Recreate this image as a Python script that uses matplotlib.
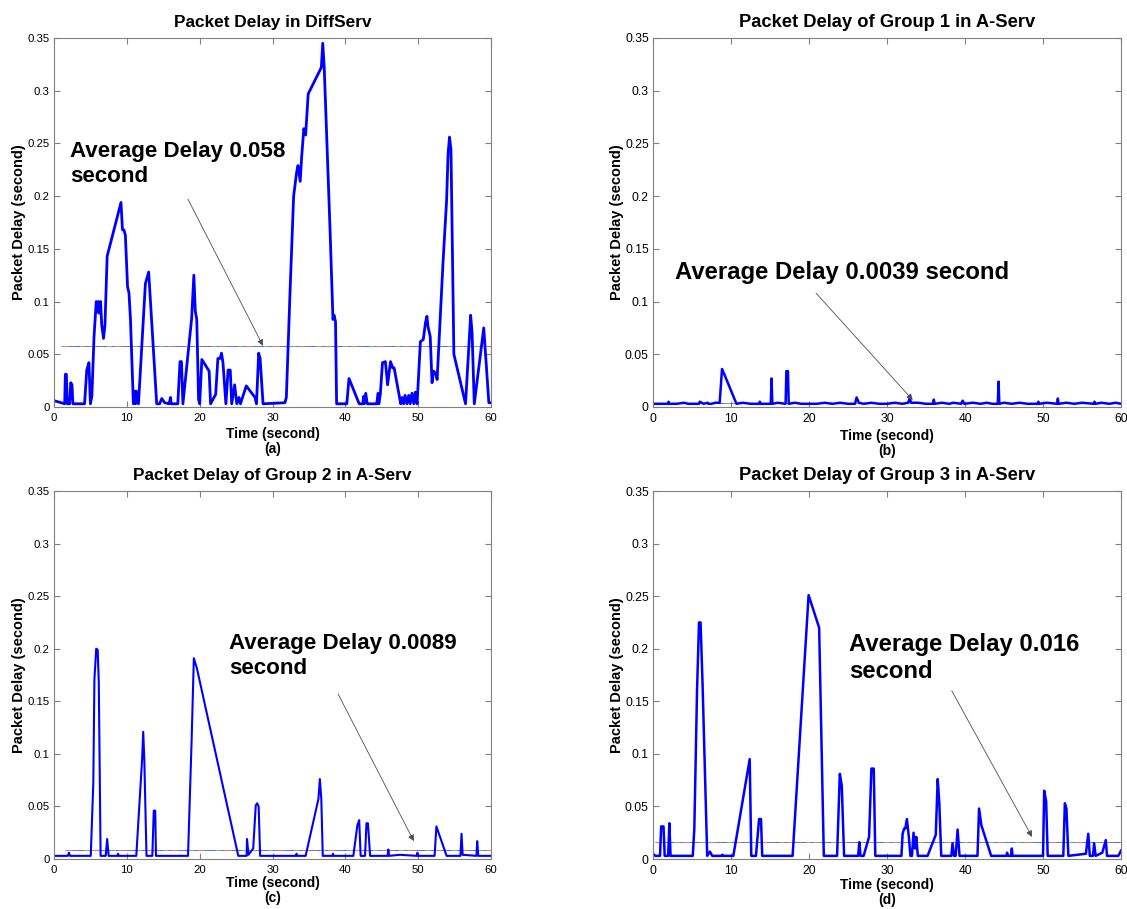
import numpy as np
import matplotlib
matplotlib.use("Agg")
import matplotlib.pyplot as plt
from matplotlib.ticker import FuncFormatter

plt.rcParams['font.family'] = ['Liberation Sans', 'DejaVu Sans']

# (a) DiffServ
time_a = [0, 1.47, 1.56, 1.7, 1.83, 2.15, 2.3, 2.47, 2.6, 4.2, 4.5, 4.8, 5.0, 5.2, 5.5, 5.8, 6.0, 6.1, 6.2, 6.4,
          6.55, 6.8, 7.0, 7.3, 9.2, 9.4, 9.6, 9.8, 10.1, 10.3, 10.5, 10.9, 11.05, 11.2, 11.3, 11.6, 12.55, 13.0,
          14.1, 14.5, 14.8, 15.2, 15.8, 16.0, 16.1, 17.0, 17.3, 17.5, 17.7, 18.9, 19.2, 19.4, 19.6, 19.85, 20.0,
          20.3, 21.3, 21.5, 22.2, 22.5, 22.8, 23.0, 23.2, 23.6, 23.9, 24.2, 24.4, 24.8, 25.1, 25.4, 25.6, 26.4,
          27.6, 27.8, 28.1, 28.3, 28.7, 31.7, 31.9, 32.4, 32.9, 33.3, 33.5, 33.8, 34.0, 34.3, 34.55, 34.9, 36.7,
          36.9, 37.1, 37.9, 38.3, 38.45, 38.65, 38.8, 40.2, 40.5, 41.9, 42.4, 42.5, 42.6, 42.8, 43.0, 44.3, 44.5,
          44.6, 44.8, 45.1, 45.5, 45.8, 46.2, 46.5, 46.7, 47.45, 47.6, 47.8, 48.0, 48.2, 48.45, 48.7, 48.9, 49.15,
          49.4, 49.6, 49.85, 50.3, 50.7, 51.0, 51.2, 51.35, 51.65, 51.9, 52.1, 52.4, 52.6, 53.4, 53.9, 54.1, 54.3,
          54.5, 54.9, 56.5, 56.9, 57.2, 57.4, 57.7, 59.0, 59.7, 60]
delay_a = [.006, .003, .031, .031, .003, .003, .023, .021, .003, .003, .035, .042, .003, .010, .067, .100, .090,
           .100, .089, .100, .078, .065, .078, .143, .194, .168, .168, .163, .114, .108, .083, .003, .015, .003,
           .015, .003, .117, .128, .003, .003, .008, .004, .003, .009, .003, .003, .043, .043, .003, .084, .125,
           .091, .083, .007, .003, .045, .034, .003, .012, .046, .046, .051, .042, .003, .035, .035, .003, .021,
           .003, .009, .003, .020, .009, .003, .051, .046, .003, .004, .009, .108, .200, .222, .229, .214, .237,
           .264, .258, .297, .322, .345, .322, .168, .083, .087, .081, .003, .003, .027, .003, .003, .010, .003,
           .013, .003, .003, .013, .003, .012, .042, .043, .021, .043, .037, .037, .009, .003, .009, .003, .011,
           .003, .011, .003, .013, .003, .014, .003, .062, .064, .080, .086, .076, .067, .023, .034, .032, .026,
           .136, .196, .240, .256, .244, .050, .003, .050, .087, .070, .003, .075, .004, .004]

# (b) Group 1
time_b = [0, 1.0, 1.9, 2.0, 2.1, 3.0, 4.0, 4.5, 5.5, 5.9, 6.0, 6.5, 7.0, 7.1, 7.5, 8.0, 8.55, 8.85, 9.2, 10.7,
          11.5, 12.5, 13.6, 13.7, 13.8, 14.5, 15.1, 15.2, 15.3, 16.0, 17.0, 17.1, 17.3, 17.4, 18.2, 19.0, 20.0,
          21.0, 22.0, 23.0, 24.0, 25.0, 25.9, 26.1, 26.4, 27.0, 28.0, 29.0, 30.0, 31.0, 32.0, 32.7, 32.9, 33.1,
          34.0, 35.0, 35.9, 36.0, 36.1, 37.0, 38.0, 38.5, 39.5, 39.7, 39.9, 41.0, 42.0, 42.8, 43.5, 44.2, 44.3,
          44.4, 45.0, 46.0, 47.0, 48.0, 49.3, 49.4, 49.5, 50.5, 51.8, 51.9, 52.0, 53.0, 54.0, 55.0, 56.5, 56.6,
          56.7, 57.5, 58.5, 59.3, 60]
delay_b = [.003, .003, .003, .005, .003, .003, .004, .003, .003, .003, .005, .003, .004, .003, .003, .004, .004,
           .036, .030, .003, .004, .003, .003, .005, .003, .003, .003, .027, .003, .004, .003, .034, .034, .003,
           .004, .003, .003, .003, .004, .003, .004, .003, .003, .009, .004, .003, .004, .003, .003, .004, .003,
           .004, .008, .004, .004, .003, .003, .007, .003, .004, .003, .004, .003, .006, .003, .004, .003, .004,
           .003, .003, .024, .003, .004, .003, .004, .003, .003, .005, .003, .004, .003, .008, .003, .004, .003,
           .004, .003, .005, .003, .004, .003, .004, .003]

# (c) Group 2
time_c = [0, 1.9, 2.05, 2.2, 5.05, 5.4, 5.55, 5.8, 6.0, 6.15, 6.4, 7.1, 7.3, 7.5, 8.7, 8.8, 8.9, 11.3, 12.1, 12.25,
          12.4, 12.7, 13.5, 13.7, 13.9, 14.0, 18.4, 18.9, 19.2, 19.6, 25.3, 26.45, 26.5, 26.7, 27.35, 27.7, 27.9,
          28.1, 28.3, 33.2, 33.3, 33.4, 34.55, 36.3, 36.5, 36.7, 36.9, 38.2, 38.3, 38.4, 41.1, 41.65, 41.9, 42.1,
          42.7, 42.9, 43.1, 43.4, 45.8, 45.9, 46.0, 47.5, 49.8, 49.9, 50.0, 52.25, 52.5, 53.9, 55.8, 55.95, 56.1,
          58.0, 58.1, 58.25, 60]
delay_c = [.003, .003, .006, .003, .003, .073, .171, .200, .199, .168, .003, .003, .019, .003, .003, .005, .003,
           .003, .095, .121, .095, .003, .003, .046, .046, .003, .003, .114, .191, .182, .003, .003, .019, .004,
           .010, .051, .053, .050, .003, .003, .005, .003, .003, .057, .076, .057, .003, .003, .005, .003, .003,
           .032, .037, .003, .003, .034, .034, .003, .003, .009, .003, .004, .003, .006, .003, .003, .031, .003,
           .003, .024, .004, .003, .017, .003, .003]

# (d) Group 3
time_d = [0, 0.3, 0.9, 1.05, 1.35, 1.5, 1.95, 2.1, 2.25, 5.1, 5.3, 5.65, 5.9, 6.1, 6.35, 6.95, 7.3, 7.6, 8.8, 8.9,
          9.0, 10.3, 12.4, 12.6, 13.2, 13.6, 13.85, 14.0, 17.9, 19.95, 21.3, 21.9, 23.6, 23.95, 24.2, 24.5, 26.3,
          26.45, 26.6, 27.0, 27.7, 28.0, 28.3, 28.5, 31.85, 32.0, 32.2, 32.35, 32.55, 32.8, 33.0, 33.2, 33.4, 33.6,
          33.75, 33.95, 35.2, 36.25, 36.5, 36.7, 36.95, 38.25, 38.4, 38.6, 38.8, 39.05, 39.3, 41.6, 41.8, 42.1,
          43.35, 45.3, 45.4, 45.5, 45.9, 46.0, 46.1, 50.0, 50.15, 50.4, 50.6, 52.6, 52.8, 53.0, 53.25, 55.5, 55.8,
          56.0, 56.4, 56.55, 56.75, 57.6, 58.05, 58.2, 59.65, 60]
delay_d = [.005, .003, .003, .031, .031, .003, .003, .034, .003, .003, .029, .161, .225, .225, .168, .003, .007,
           .003, .003, .004, .003, .003, .095, .003, .003, .038, .038, .003, .003, .251, .220, .003, .003, .081,
           .070, .003, .003, .016, .003, .003, .021, .086, .086, .003, .003, .024, .029, .029, .038, .021, .003,
           .003, .025, .010, .021, .003, .003, .023, .076, .054, .003, .003, .015, .003, .003, .028, .003, .003,
           .048, .032, .003, .003, .006, .003, .003, .010, .003, .003, .065, .055, .003, .003, .053, .048, .003,
           .005, .024, .003, .003, .015, .003, .006, .018, .003, .003, .008]

titles = ["Packet Delay in DiffServ", "Packet Delay of Group 1 in A-Serv",
          "Packet Delay of Group 2 in A-Serv", "Packet Delay of Group 3 in A-Serv"]
panel_tags = ["(a)", "(b)", "(c)", "(d)"]
avg_delay = [0.058, 0.0039, 0.0089, 0.016]
avg_start = [1.0, 0.0, 1.5, 0.3]
avg_text = ["Average Delay 0.058\nsecond", "Average Delay 0.0039 second",
            "Average Delay 0.0089\nsecond", "Average Delay 0.016\nsecond"]
text_xy = [(2.2, 0.252), (2.8, 0.138), (24.0, 0.215), (25.1, 0.215)]
arrow_from = [(18.4, 0.197), (20.9, 0.108), (39.0, 0.157), (38.3, 0.160)]
arrow_to = [(28.7, 0.058), (33.3, 0.0066), (49.4, 0.017), (48.6, 0.021)]

series = [(time_a, delay_a), (time_b, delay_b), (time_c, delay_c), (time_d, delay_d)]
line_w = [2.0, 1.8, 1.5, 1.8]

fig = plt.figure(figsize=(11.27, 9.09), dpi=100)
rects = [[0.0479, 0.5523, 0.3878, 0.4059], [0.5794, 0.5523, 0.4153, 0.4059],
         [0.0479, 0.0550, 0.3878, 0.4048], [0.5794, 0.0550, 0.4153, 0.4048]]
# right column of the source image is stretched a bit wider
fs_scale = [1.0, 1.07, 1.0, 1.07]
xlab_pad = [3, 3, 1, 1]

fmt = FuncFormatter(lambda v, p: "%g" % round(v, 4))

for i in range(4):
    ax = fig.add_axes(rects[i])
    s = fs_scale[i]
    t, d = series[i]
    # average line: a few coloured dash-dot lines, slightly shifted
    for k, c in enumerate(['#ff5050', '#50b050', '#5050ff']):
        ax.plot([avg_start[i], 60], [avg_delay[i], avg_delay[i]], color=c, lw=0.7,
                linestyle=(k * 9, (10, 6, 2, 9)), alpha=0.85)
    ax.plot(t, d, color='#0000ff', lw=line_w[i])
    ax.set_xlim(0, 60)
    ax.set_ylim(0, 0.35)
    ax.set_xticks(np.arange(0, 61, 10))
    ax.set_yticks(np.arange(0, 0.351, 0.05))
    ax.yaxis.set_major_formatter(fmt)
    ax.tick_params(direction='in', top=True, right=True, length=4, width=0.8, color='#808080',
                   labelsize=8.2 * s, pad=3)
    ax.tick_params(axis='x', pad=4)
    for sp in ax.spines.values():
        sp.set_color('#808080')
        sp.set_linewidth(0.8)
    ax.set_title(titles[i], fontsize=12.4 * s, fontweight='bold', pad=8)
    ax.set_ylabel("Packet Delay (second)", fontsize=10.5, fontweight='bold', labelpad=1)
    ax.set_xlabel("Time (second)\n" + panel_tags[i], fontsize=10, fontweight='bold',
                  labelpad=xlab_pad[i], linespacing=1.1)
    ax.annotate("", xy=arrow_to[i], xytext=arrow_from[i],
                arrowprops=dict(arrowstyle='-|>', color='0.3', lw=0.6, mutation_scale=9,
                                shrinkA=0, shrinkB=0))
    ax.text(text_xy[i][0], text_xy[i][1], avg_text[i], fontsize=16.1 * s, fontweight='bold',
            va='top', ha='left', linespacing=1.25)

fig.savefig("out.png", dpi=100)
